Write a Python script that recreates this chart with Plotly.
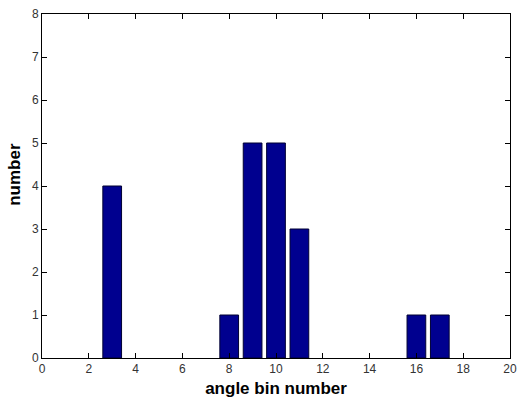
import plotly.graph_objects as go

bins = [3, 8, 9, 10, 11, 16, 17]
counts = [4, 1, 5, 5, 3, 1, 1]
x_ticks = list(range(0, 21, 2))
y_ticks = list(range(0, 9))

fig = go.Figure(go.Bar(
    x=bins, y=counts, width=0.8,
    marker=dict(color="#00008F", line=dict(color="#000033", width=1)),
))

axis_common = dict(
    showgrid=False, zeroline=False, showline=True, linecolor="black", linewidth=1,
    ticks="inside", ticklen=5, tickcolor="black", mirror="ticks", automargin=False,
    tickfont=dict(family="Liberation Sans, Arial", size=12, color="#333"),
)
fig.update_layout(
    width=518, height=398,
    margin=dict(l=42, r=8, t=14, b=40),
    paper_bgcolor="white", plot_bgcolor="white",
    showlegend=False,
    xaxis=dict(range=[0, 20], tickvals=x_ticks,
               title=dict(text="angle bin number",
                          font=dict(family="Liberation Sans, Arial", size=17, color="black", weight="bold")),
               **axis_common),
    yaxis=dict(range=[0, 8], tickvals=y_ticks, **axis_common),
    annotations=[dict(
        text="number", textangle=-90, showarrow=False,
        xref="paper", yref="paper", x=-0.058, y=0.535,
        xanchor="center", yanchor="middle",
        font=dict(family="Liberation Sans, Arial", size=17, color="black", weight="bold"),
    )],
)
fig.write_html("out.html")
